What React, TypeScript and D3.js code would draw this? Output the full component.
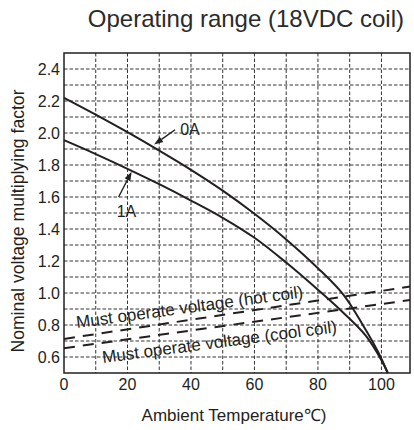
import React from "react";
import * as d3 from "d3";

const titleText = "Operating range (18VDC coil)";
const xTitle = "Ambient Temperature℃)";
const yTitle = "Nominal voltage multiplying factor";

const xTicks = [0, 20, 40, 60, 80, 100];
const yTicks = [0.6, 0.8, 1.0, 1.2, 1.4, 1.6, 1.8, 2.0, 2.2, 2.4];
const xGrid = [10, 20, 30, 40, 50, 60, 70, 80, 90, 100];
const yGrid = [0.6, 0.7, 0.8, 0.9, 1.0, 1.1, 1.2, 1.3, 1.4, 1.5, 1.6, 1.7, 1.8, 1.9, 2.0, 2.1, 2.2, 2.3, 2.4];

// 0A curve
const curve0AX = [0, 10, 20, 30, 40, 50, 60, 70, 80, 88, 94, 99, 102];
const curve0AY = [2.22, 2.115, 2.005, 1.89, 1.77, 1.64, 1.495, 1.335, 1.155, 0.99, 0.805, 0.63, 0.5];
// 1A curve
const curve1AX = [0, 10, 20, 30, 40, 50, 60, 70, 80, 87, 95, 100, 102];
const curve1AY = [1.955, 1.868, 1.776, 1.68, 1.578, 1.47, 1.345, 1.19, 1.02, 0.895, 0.735, 0.58, 0.5];
// must operate voltage lines
const hotX = [0, 109];
const hotY = [0.713, 1.04];
const coolX = [0, 109];
const coolY = [0.655, 0.956];

const FONT = "'Liberation Sans', Arial, Helvetica, sans-serif";
const INK = "#231f20";

export default function App() {
  const x = d3.scaleLinear().domain([0, 109]).range([64, 410]);
  const y = d3.scaleLinear().domain([0.5, 2.5]).range([373, 53]);

  const line = d3
    .line<[number, number]>()
    .x((d) => x(d[0]))
    .y((d) => y(d[1]))
    .curve(d3.curveCatmullRom.alpha(0.5));
  const straight = d3
    .line<[number, number]>()
    .x((d) => x(d[0]))
    .y((d) => y(d[1]));

  const zip = (a: number[], b: number[]) => a.map((v, i) => [v, b[i]] as [number, number]);

  const arrow = (tx: number, ty: number, hx: number, hy: number) => {
    const x1 = x(tx), y1 = y(ty), x2 = x(hx), y2 = y(hy);
    const ang = Math.atan2(y2 - y1, x2 - x1);
    const L = 9, W = 3.2;
    const bx = x2 - L * Math.cos(ang), by = y2 - L * Math.sin(ang);
    const p1 = [bx + W * Math.sin(ang), by - W * Math.cos(ang)];
    const p2 = [bx - W * Math.sin(ang), by + W * Math.cos(ang)];
    return (
      <g>
        <line x1={x1} y1={y1} x2={bx} y2={by} stroke={INK} strokeWidth={1.4} />
        <polygon points={`${x2},${y2} ${p1[0]},${p1[1]} ${p2[0]},${p2[1]}`} fill={INK} />
      </g>
    );
  };

  return (
    <svg
      width={414}
      height={430}
      style={{ position: "absolute", left: 0, top: 0, background: "#fff" }}
      fontFamily={FONT}
    >
      <text x={404} y={27} fontSize={24} textAnchor="end" fill="#2b2b2b">
        {titleText}
      </text>

      {/* grid */}
      <g stroke="#333" strokeWidth={1} strokeDasharray="3.5,2" fill="none">
        {xGrid.map((v) => (
          <line key={"gx" + v} x1={x(v)} x2={x(v)} y1={y(2.5)} y2={y(0.5)} />
        ))}
        {yGrid.map((v) => (
          <line key={"gy" + v} x1={x(0)} x2={x(109)} y1={y(v)} y2={y(v)} />
        ))}
      </g>

      {/* must operate lines */}
      <g stroke={INK} strokeWidth={2} strokeDasharray="11,8" fill="none">
        <path d={straight(zip(hotX, hotY)) || ""} />
        <path d={straight(zip(coolX, coolY)) || ""} />
      </g>

      {/* curves */}
      <g stroke={INK} strokeWidth={2} fill="none">
        <path d={line(zip(curve0AX, curve0AY)) || ""} />
        <path d={line(zip(curve1AX, curve1AY)) || ""} />
      </g>

      {/* border */}
      <rect x={x(0)} y={y(2.5)} width={x(109) - x(0)} height={y(0.5) - y(2.5)} fill="none" stroke={INK} strokeWidth={1.5} />

      {/* ticks */}
      {xTicks.map((v) => (
        <text key={"xt" + v} x={x(v)} y={390} fontSize={16} textAnchor="middle" fill={INK}>
          {v}
        </text>
      ))}
      {yTicks.map((v) => (
        <text key={"yt" + v} x={60} y={y(v)} dy="0.36em" fontSize={16} textAnchor="end" fill={INK}>
          {v.toFixed(1)}
        </text>
      ))}

      {/* axis titles */}
      <text x={234} y={421} fontSize={17} textAnchor="middle" fill={INK}>
        {xTitle}
      </text>
      <text transform={`translate(24,221) rotate(-90)`} fontSize={17.6} textAnchor="middle" fill={INK}>
        {yTitle}
      </text>

      {/* curve labels */}
      <text x={x(36.6)} y={y(1.99)} fontSize={16} fill={INK}>0A</text>
      {arrow(35, 2.02, 28.4, 1.928)}
      <text x={x(16.6)} y={y(1.478)} fontSize={16} fill={INK}>1A</text>
      {arrow(17.2, 1.6, 21.3, 1.758)}

      <text transform={`translate(${x(4.1)},${y(0.781)}) rotate(-7.7)`} fontSize={17} fill={INK}>
        Must operate voltage (hot coil)
      </text>
      <text transform={`translate(${x(12.3)},${y(0.5625)}) rotate(-7.5)`} fontSize={17} fill={INK}>
        Must operate voltage (cool coil)
      </text>
    </svg>
  );
}
